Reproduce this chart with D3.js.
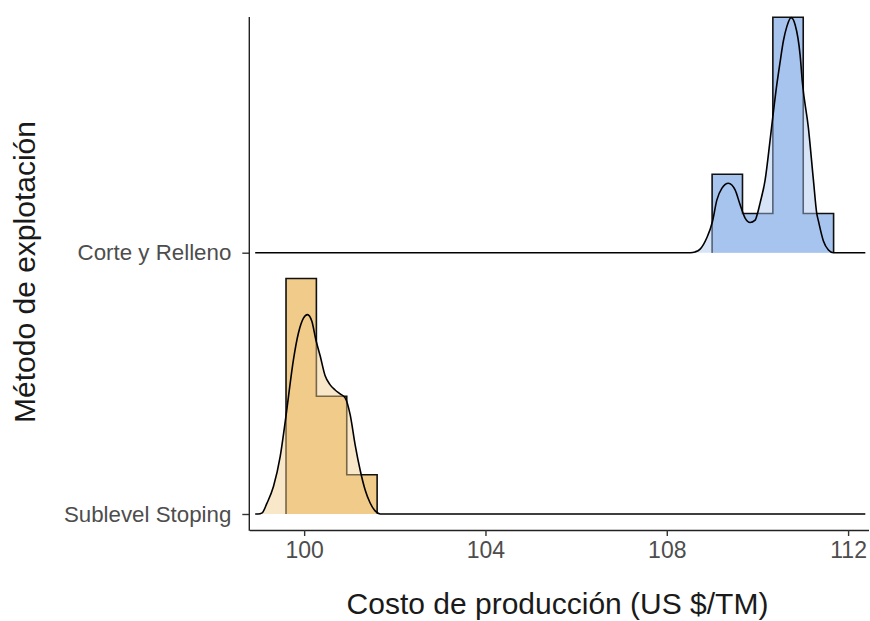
<!DOCTYPE html>
<html>
<head>
<meta charset="utf-8">
<script src="https://cdn.jsdelivr.net/npm/d3@7"></script>
<style>
  html, body { margin: 0; padding: 0; background: #fff; }
  svg { display: block; }
  text { font-family: "Liberation Sans", Arial, sans-serif; }
</style>
</head>
<body>
<svg id="chart" width="870" height="621"></svg>
<script>
// Mining methods (bottom to top)
const methods = ["Sublevel Stoping", "Corte y Relleno"];
const xTicks = [100, 104, 108, 112];

// Histogram bins (left edges) and counts per method
const binWidth = 0.67;
const sublevelBins = [99.60, 100.27, 100.94];
const sublevelCounts = [6, 3, 1];
const corteBins = [109.00, 109.67, 110.34, 111.01];
const corteCounts = [2, 1, 6, 1];

// Density curves, expressed on the same height scale as the counts
const sublevelDensityX = [98.985, 99.074, 99.177, 99.323, 99.471, 99.596, 99.654, 99.764, 99.874, 99.985,
  100.073, 100.17, 100.258, 100.353, 100.463, 100.574, 100.684, 100.794, 100.904, 101.015,
  101.125, 101.235, 101.346, 101.456, 101.566, 101.676];
const sublevelDensityY = [0, 0.03, 0.27, 0.70, 1.46, 2.47, 2.99, 3.93, 4.61, 4.99,
  5.08, 4.91, 4.44, 4.03, 3.52, 3.29, 3.16, 3.06, 2.96, 2.53,
  1.76, 1.12, 0.61, 0.28, 0.08, 0];

const corteDensityX = [108.515, 108.625, 108.735, 108.883, 109.007, 109.104, 109.214, 109.36, 109.507, 109.618,
  109.728, 109.838, 109.949, 109.999, 110.059, 110.169, 110.279, 110.339, 110.427, 110.5,
  110.573, 110.648, 110.743, 110.831, 110.941, 110.992, 111.124, 111.235, 111.31, 111.345,
  111.455, 111.566, 111.676];
const corteDensityY = [0, 0.02, 0.09, 0.38, 0.79, 1.34, 1.64, 1.77, 1.60, 1.22,
  0.88, 0.77, 0.83, 0.99, 1.27, 1.85, 2.87, 3.46, 4.28, 4.86,
  5.40, 5.76, 5.99, 5.81, 5.04, 4.33, 3.18, 1.85, 0.99, 0.81,
  0.30, 0.07, 0];

// Range covered by each ridge's baseline
const ridgeExtent = [98.92, 112.38];

const colors = { "Sublevel Stoping": "#f0cb8a", "Corte y Relleno": "#a7c4ef" };

const ridges = [
  { method: "Corte y Relleno", bins: corteBins, counts: corteCounts, dx: corteDensityX, dy: corteDensityY },
  { method: "Sublevel Stoping", bins: sublevelBins, counts: sublevelCounts, dx: sublevelDensityX, dy: sublevelDensityY }
];

const svg = d3.select("#chart");
const panel = { left: 249.3, right: 868.5, top: 17, bottom: 530 };

const x = d3.scaleLinear().domain([98.79, 112.45]).range([panel.left, panel.right]);
const y = d3.scalePoint().domain(methods).range([514, 252.7]);
const h = d3.scaleLinear().domain([0, 6]).range([0, 235.5]);

const g = svg.append("g");

ridges.forEach(r => {
  const base = y(r.method);
  const col = colors[r.method];

  // density points padded with zeros over the full ridge range
  const pts = [[ridgeExtent[0], 0]]
    .concat(r.dx.map((v, i) => [v, r.dy[i]]))
    .concat([[ridgeExtent[1], 0]]);

  // histogram as a stepped outline
  const steps = [[r.bins[0], 0]];
  r.bins.forEach((b, i) => {
    steps.push([b, r.counts[i]]);
    steps.push([b + binWidth, r.counts[i]]);
  });
  steps.push([r.bins[r.bins.length - 1] + binWidth, 0]);

  const stepLine = d3.line().x(d => x(d[0])).y(d => base - h(d[1]));
  const stepArea = d3.area().x(d => x(d[0])).y0(base).y1(d => base - h(d[1]));

  g.append("path")
    .attr("d", stepArea(steps))
    .attr("fill", col);
  g.append("path")
    .attr("d", stepLine(steps))
    .attr("fill", "none")
    .attr("stroke", "#111")
    .attr("stroke-width", 1.6);

  const dArea = d3.area().curve(d3.curveMonotoneX)
    .x(d => x(d[0])).y0(base).y1(d => base - h(d[1]));
  const dLine = d3.line().curve(d3.curveMonotoneX)
    .x(d => x(d[0])).y(d => base - h(d[1]));

  g.append("path")
    .attr("d", dArea(pts))
    .attr("fill", col)
    .attr("fill-opacity", 0.46);
  g.append("path")
    .attr("d", dLine(pts))
    .attr("fill", "none")
    .attr("stroke", "#000")
    .attr("stroke-width", 1.6);
});

// x axis
const xAxis = svg.append("g")
  .attr("transform", `translate(0,${panel.bottom})`)
  .call(d3.axisBottom(x).tickValues(xTicks).tickSize(6).tickSizeOuter(0).tickPadding(6).tickFormat(d3.format("d")));
xAxis.select(".domain").attr("stroke", "#222").attr("stroke-width", 1.4);
xAxis.selectAll(".tick line").attr("stroke", "#333").attr("stroke-width", 1.4);
xAxis.selectAll(".tick text")
  .attr("font-size", 23).attr("fill", "#4d4d4d")
  .attr("font-family", "Liberation Sans, Arial, sans-serif");

// y axis
const yAxis = svg.append("g")
  .attr("transform", `translate(${panel.left},0)`)
  .call(d3.axisLeft(y).tickSize(7).tickSizeOuter(0).tickPadding(11));
yAxis.select(".domain").remove();
yAxis.append("line")
  .attr("x1", 0).attr("x2", 0)
  .attr("y1", panel.top).attr("y2", panel.bottom + 0.7)
  .attr("stroke", "#222").attr("stroke-width", 1.4);
yAxis.selectAll(".tick line").attr("stroke", "#333").attr("stroke-width", 1.4);
yAxis.selectAll(".tick text")
  .attr("font-size", 22.3).attr("fill", "#4d4d4d")
  .attr("font-family", "Liberation Sans, Arial, sans-serif");

// axis titles
svg.append("text")
  .attr("x", 557.5).attr("y", 614)
  .attr("text-anchor", "middle")
  .attr("font-size", 30).attr("fill", "#1a1a1a")
  .text("Costo de producción (US $/TM)");

svg.append("text")
  .attr("transform", "translate(35,272) rotate(-90)")
  .attr("text-anchor", "middle")
  .attr("font-size", 30).attr("fill", "#1a1a1a")
  .text("Método de explotación");
</script>
</body>
</html>
